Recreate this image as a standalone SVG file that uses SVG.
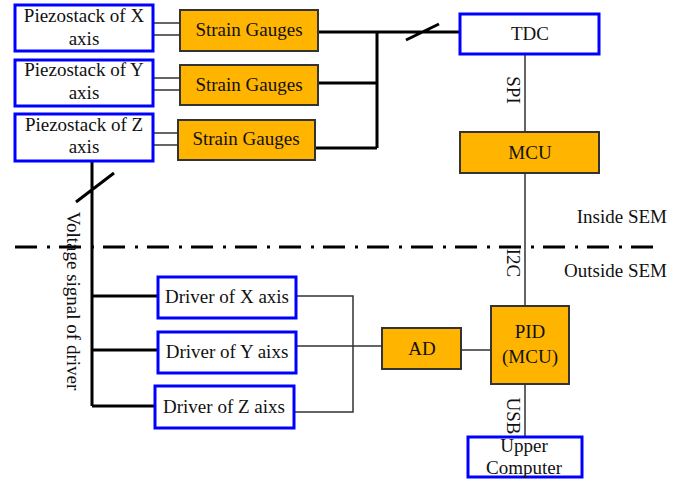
<svg xmlns="http://www.w3.org/2000/svg" width="695" height="483" viewBox="0 0 695 483">
<style>
text{font-family:'Liberation Serif','Times New Roman',Times,'DejaVu Serif',serif;font-size:19px;fill:#111;text-anchor:middle}
.bl{fill:#fff;stroke:#0000ff;stroke-width:3}
.or{fill:#ffb400;stroke:#333;stroke-width:2}
.thick{stroke:#000;stroke-width:3;fill:none}
.thin{stroke:#333;stroke-width:1.5;fill:none}
.rot{dominant-baseline:central}
</style>
<rect width="695" height="483" fill="#fff"/>
<g id="connectors">
<path class="thin" d="M153 23H180M153 35H180M153 78H180M153 90H180M153 133H178M153 145H178"/>
<path class="thick" d="M318 32H460M318 83H377M315 148H377M377 32V148M406 40L439 24"/>
<path class="thin" d="M525 54V132M525 173V306M525 384V437"/>
<path class="thick" d="M92 161V406M92 296H158M92 350H158M92 406H155M76 202L114 173"/>
<path class="thin" d="M296 296H353V412H294M296 346H382M461 350H491"/>
<path d="M15 247H655" stroke="#000" stroke-width="3" stroke-dasharray="22 10 3 9"/>
</g>
<g id="piezoX"><rect class="bl" x="15" y="5" width="138" height="46"/><text x="84" y="22">Piezostack of X</text><text x="84" y="45">axis</text></g>
<g id="piezoY"><rect class="bl" x="15" y="60" width="138" height="46"/><text x="84" y="76">Piezostack of Y</text><text x="84" y="99">axis</text></g>
<g id="piezoZ"><rect class="bl" x="15" y="114" width="138" height="47"/><text x="84" y="131">Piezostack of Z</text><text x="84" y="153">axis</text></g>
<g id="sgX"><rect class="or" x="180" y="10" width="138" height="41"/><text x="249" y="36">Strain Gauges</text></g>
<g id="sgY"><rect class="or" x="180" y="65" width="138" height="40"/><text x="249" y="91">Strain Gauges</text></g>
<g id="sgZ"><rect class="or" x="178" y="120" width="137" height="40"/><text x="246" y="145">Strain Gauges</text></g>
<g id="tdc"><rect class="bl" x="460" y="14" width="139" height="40"/><text x="530" y="40">TDC</text></g>
<g id="mcu"><rect class="or" x="460" y="132" width="139" height="41"/><text x="530" y="159">MCU</text></g>
<g id="driverX"><rect class="bl" x="158" y="277" width="138" height="41"/><text x="227" y="303">Driver of X axis</text></g>
<g id="driverY"><rect class="bl" x="158" y="332" width="138" height="41"/><text x="227" y="358">Driver of Y aixs</text></g>
<g id="driverZ"><rect class="bl" x="155" y="386" width="139" height="42"/><text x="224" y="413">Driver of Z aixs</text></g>
<g id="ad"><rect class="or" x="382" y="328" width="79" height="41"/><text x="422" y="355">AD</text></g>
<g id="pid"><rect class="or" x="491" y="306" width="78" height="78"/><text x="530" y="338">PID</text><text x="530" y="363">(MCU)</text></g>
<g id="upper"><rect class="bl" x="468" y="437" width="114" height="40"/><text x="524" y="452">Upper</text><text x="524" y="474">Computer</text></g>
<g id="labels">
<text class="rot" transform="translate(513 90) rotate(90)">SPI</text>
<text class="rot" transform="translate(513 263) rotate(90)">I2C</text>
<text class="rot" transform="translate(513 416) rotate(90)">USB</text>
<text class="rot" transform="translate(73 301) rotate(90)">Voltage signal of driver</text>
<text x="667" y="223" style="text-anchor:end">Inside SEM</text>
<text x="667" y="277" style="text-anchor:end">Outside SEM</text>
</g>
</svg>
